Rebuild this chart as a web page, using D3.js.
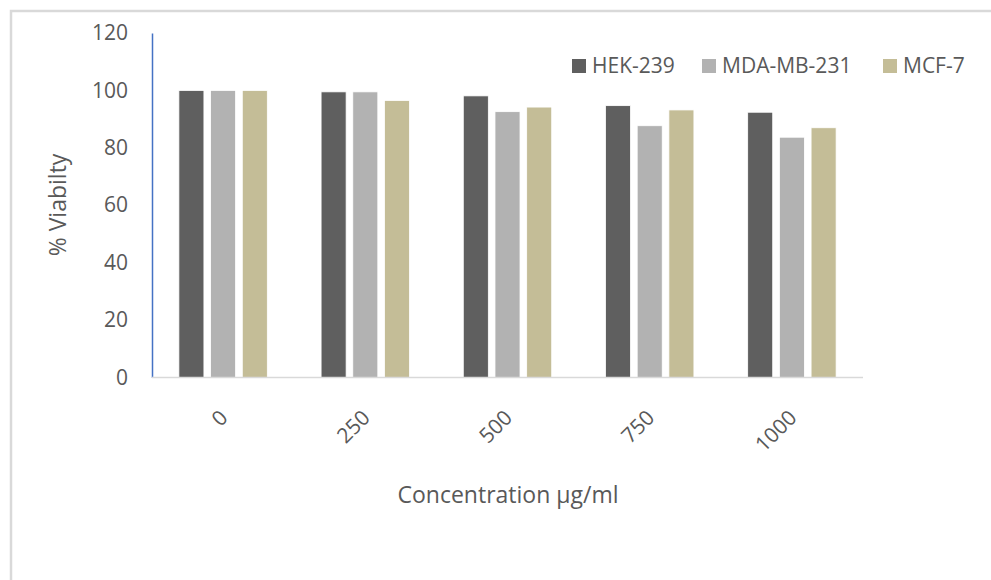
<!DOCTYPE html>
<html>
<head>
<meta charset="utf-8">
<script src="https://cdn.jsdelivr.net/npm/d3@7"></script>
<style>
  html, body { margin: 0; padding: 0; background: #ffffff; }
  svg { display: block; }
  text { font-family: "Open Sans", "Noto Sans", sans-serif; fill: #595959; }
</style>
</head>
<body>
<svg id="chart" width="991" height="580"></svg>
<script>
// Concentrations (µg/ml) tested
const categories = ["0", "250", "500", "750", "1000"];
// Cell lines
const seriesNames = ["HEK-239", "MDA-MB-231", "MCF-7"];
// % viability per cell line at each concentration
const hek239   = [100, 99.5, 98.1, 94.7, 92.4];
const mdaMb231 = [100, 99.5, 92.6, 87.7, 83.7];
const mcf7     = [100, 96.5, 94.2, 93.2, 87.0];
// Y-axis tick values
const yTicks = [0, 20, 40, 60, 80, 100, 120];

const seriesValues = [hek239, mdaMb231, mcf7];
const colors = ["#5f5f5f", "#b2b2b2", "#c4bd97"];

const svg = d3.select("#chart");

// Chart area frame
svg.append("rect")
  .attr("x", 11).attr("y", 11)
  .attr("width", 1000).attr("height", 600)
  .attr("fill", "none")
  .attr("stroke", "#d9d9d9")
  .attr("stroke-width", 2.5);

const plot = { left: 152, right: 863, top: 33, bottom: 377.5 };

const x0 = d3.scaleBand()
  .domain(categories)
  .range([plot.left, plot.right])
  .padding(0);

const x1 = d3.scaleBand()
  .domain(seriesNames)
  .range([0, x0.bandwidth()])
  .paddingInner(0.21)
  .paddingOuter(0.848);

const y = d3.scaleLinear()
  .domain([0, 120])
  .range([plot.bottom, plot.top]);

// Bars
const rows = categories.map((c, i) => ({
  cat: c,
  vals: seriesNames.map((s, j) => ({ name: s, value: seriesValues[j][i], color: colors[j] }))
}));

const groups = svg.append("g")
  .selectAll("g")
  .data(rows)
  .join("g")
  .attr("transform", d => `translate(${x0(d.cat)},0)`);

groups.selectAll("rect")
  .data(d => d.vals)
  .join("rect")
  .attr("x", d => x1(d.name))
  .attr("y", d => y(d.value))
  .attr("width", x1.bandwidth())
  .attr("height", d => y(0) - y(d.value))
  .attr("fill", d => d.color)
  .attr("stroke", "#ffffff")
  .attr("stroke-width", 0.8);

// Y axis (blue spine, labels only)
const yAxis = svg.append("g")
  .attr("transform", `translate(${plot.left},0)`)
  .call(d3.axisLeft(y).tickValues(yTicks).tickSize(0).tickSizeOuter(0).tickPadding(24));
yAxis.select(".domain").attr("stroke", "#4472c4").attr("stroke-width", 1.5);
yAxis.selectAll("text")
  .style("font-family", "'Open Sans', sans-serif")
  .style("font-size", "21px")
  .attr("fill", "#595959");

// X axis baseline
svg.append("line")
  .attr("x1", plot.left).attr("x2", plot.right)
  .attr("y1", y(0)).attr("y2", y(0))
  .attr("stroke", "#d9d9d9")
  .attr("stroke-width", 1.5);

// X category labels, rotated
svg.append("g")
  .selectAll("text")
  .data(categories)
  .join("text")
  .attr("transform", d => `translate(${x0(d) + x0.bandwidth() / 2 + 6},419) rotate(-45)`)
  .attr("text-anchor", "end")
  .style("font-size", "21px")
  .text(d => d);

// Axis titles
svg.append("text")
  .attr("x", 508)
  .attr("y", 503)
  .attr("text-anchor", "middle")
  .style("font-size", "23px")
  .text("Concentration µg/ml");

svg.append("text")
  .attr("transform", "translate(66,205) rotate(-90)")
  .attr("text-anchor", "middle")
  .style("font-size", "23px")
  .text("% Viabilty");

// Legend
const legendX = [572, 702, 883];
const legend = svg.append("g")
  .selectAll("g")
  .data(seriesNames)
  .join("g")
  .attr("transform", (d, i) => `translate(${legendX[i]},59)`);

legend.append("rect")
  .attr("width", 14).attr("height", 14)
  .attr("fill", (d, i) => colors[i]);

legend.append("text")
  .attr("x", 20)
  .attr("y", 14)
  .style("font-size", "21px")
  .text(d => d);
</script>
</body>
</html>
